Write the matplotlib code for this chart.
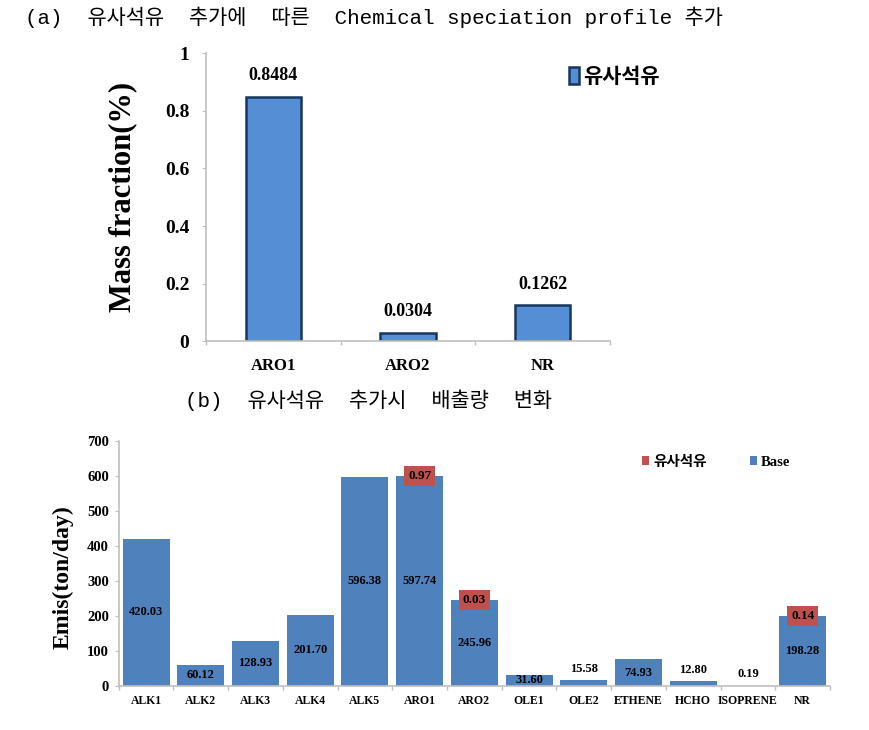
import matplotlib
matplotlib.use("Agg")
import matplotlib.pyplot as plt
import numpy as np

SERIF_KR = ["Liberation Serif", "Noto Sans CJK KR"]
TITLE_FONT = ["Liberation Mono", "Noto Sans CJK KR"]
plt.rcParams["font.family"] = SERIF_KR

# (a) speciation profile
profile_species = ["ARO1", "ARO2", "NR"]
profile_fraction = [0.8484, 0.0304, 0.1262]
profile_ticks = [0, 0.2, 0.4, 0.6, 0.8, 1]
profile_tick_labels = ["0", "0.2", "0.4", "0.6", "0.8", "1"]

# (b) emission change
emis_species = ["ALK1", "ALK2", "ALK3", "ALK4", "ALK5", "ARO1", "ARO2",
                "OLE1", "OLE2", "ETHENE", "HCHO", "ISOPRENE", "NR"]
emis_base = [420.03, 60.12, 128.93, 201.70, 596.38, 597.74, 245.96,
             31.60, 15.58, 74.93, 12.80, 0.19, 198.28]
emis_added = [0, 0, 0, 0, 0, 0.97, 0.03, 0, 0, 0, 0, 0, 0.14]
emis_ticks = [0, 100, 200, 300, 400, 500, 600, 700]

AXIS_GREY = "#BFBFBF"

fig = plt.figure(figsize=(8.69, 7.30), dpi=100)

fig.text(25 / 869, 1 - 17 / 730,
         "(a)  유사석유  추가에  따른  Chemical speciation profile 추가",
         family=TITLE_FONT, fontsize=15, ha="left", va="center")
fig.text(185 / 869, 1 - 400 / 730, "(b)  유사석유  추가시  배출량  변화",
         family=TITLE_FONT, fontsize=15, ha="left", va="center")

# ---- top chart ----
ax1 = fig.add_axes([206 / 869, 1 - 341.5 / 730, 404 / 869, 288.5 / 730])
x1 = np.arange(len(profile_species))
bars = ax1.bar(x1, profile_fraction, width=0.41, color="#558ED5",
               edgecolor="#17375E", linewidth=1.8, label="유사석유")
for b, v in zip(bars, profile_fraction):
    ax1.annotate(f"{v:.4f}", (b.get_x() + b.get_width() / 2, v),
                 xytext=(0, 9), textcoords="offset points",
                 ha="center", va="bottom", fontsize=13, fontweight="bold")
ax1.set_xlim(-0.5, 2.5)
ax1.set_ylim(0, 1)
ax1.set_yticks(profile_ticks)
ax1.set_yticklabels(profile_tick_labels, fontsize=14, fontweight="bold")
ax1.set_xticks(x1)
ax1.set_xticklabels(profile_species, fontsize=12, fontweight="bold")
ax1.set_xticks(np.arange(-0.5, 2.6, 1), minor=True)
ax1.tick_params(axis="x", which="major", length=0, pad=12)
ax1.tick_params(axis="x", which="minor", length=3, color=AXIS_GREY, width=1)
ax1.tick_params(axis="y", length=3, color=AXIS_GREY, pad=9)
for s in ["top", "right"]:
    ax1.spines[s].set_visible(False)
for s in ["left", "bottom"]:
    ax1.spines[s].set_color(AXIS_GREY)
    ax1.spines[s].set_linewidth(1.2)
ax1.set_ylabel("Mass fraction(%)", fontsize=22, fontweight="bold")
ax1.yaxis.set_label_coords(-0.171, 0.5)
ax1.legend(loc="upper left", bbox_to_anchor=(569 / 869, 1 - 66 / 730),
           bbox_transform=fig.transFigure, frameon=False,
           handlelength=0.5, handleheight=0.9, handletextpad=0.2,
           borderpad=0, borderaxespad=0,
           prop={"family": ["Noto Sans CJK KR"], "weight": "bold", "size": 15})

# ---- bottom chart ----
ax2 = fig.add_axes([118.7 / 869, 1 - 685.7 / 730, 711.3 / 869, 245 / 730])
x2 = np.arange(len(emis_species))
ax2.bar(x2, emis_added, width=0.86, bottom=emis_base, color="#C0504D",
        label="유사석유")
ax2.bar(x2, emis_base, width=0.86, color="#4F81BD", label="Base")
for xi, base, add in zip(x2, emis_base, emis_added):
    if base >= 25:
        ax2.text(xi, base / 2, f"{base:.2f}", ha="center", va="center",
                 fontsize=9, fontweight="bold")
    else:
        ax2.annotate(f"{base:.2f}", (xi, base), xytext=(0, 4),
                     textcoords="offset points", ha="center", va="bottom",
                     fontsize=9, fontweight="bold")
    if add > 0:
        ax2.text(xi, base + add / 2, f"{add:.2f}", ha="center", va="center",
                 fontsize=9.5, fontweight="bold",
                 bbox=dict(boxstyle="square,pad=0.3", fc="#C0504D", ec="none"))
ax2.set_xlim(-0.5, len(emis_species) - 0.5)
ax2.set_ylim(0, 700)
ax2.set_yticks(emis_ticks)
ax2.set_yticklabels([str(t) for t in emis_ticks], fontsize=10.5,
                    fontweight="bold")
ax2.set_xticks(x2)
ax2.set_xticklabels(emis_species, fontsize=8.5, fontweight="bold")
ax2.set_xticks(np.arange(-0.5, len(emis_species), 1), minor=True)
ax2.tick_params(axis="x", which="major", length=0, pad=7)
ax2.tick_params(axis="x", which="minor", length=3, color=AXIS_GREY, width=1)
ax2.tick_params(axis="y", length=3, color=AXIS_GREY, pad=4)
for s in ["top", "right"]:
    ax2.spines[s].set_visible(False)
for s in ["left", "bottom"]:
    ax2.spines[s].set_color(AXIS_GREY)
    ax2.spines[s].set_linewidth(1.2)
ax2.set_ylabel("Emis(ton/day)", fontsize=17, fontweight="bold")
ax2.yaxis.set_label_coords(-0.063, 0.444)
ax2.legend(loc="upper left", bbox_to_anchor=(642 / 869, 1 - 456 / 730),
           bbox_transform=fig.transFigure, frameon=False, ncol=2,
           handlelength=0.45, handleheight=0.6, handletextpad=0.3,
           columnspacing=3.0, borderpad=0, borderaxespad=0,
           prop={"family": SERIF_KR, "weight": "bold", "size": 10.5})

fig.savefig("out.png", dpi=100)
